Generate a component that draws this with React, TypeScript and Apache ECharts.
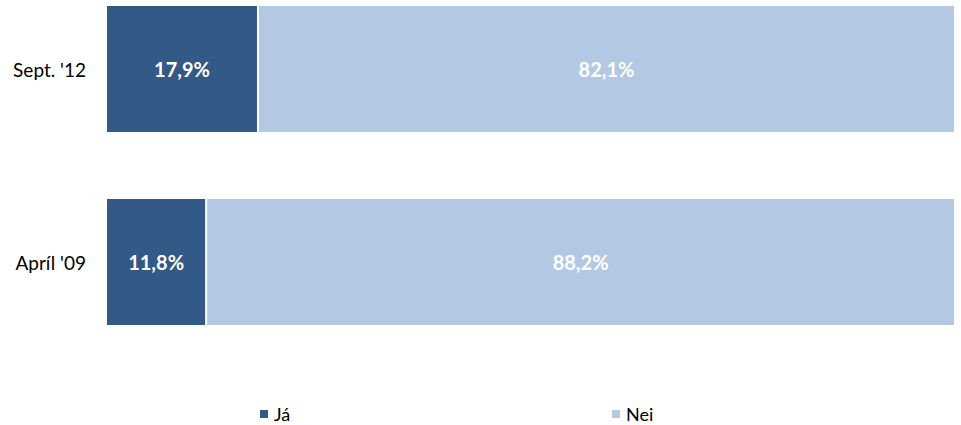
import React, { useEffect, useRef } from "react";
import * as echarts from "echarts";

const categories = ["Apríl '09", "Sept. '12"];
const jaValues = [11.8, 17.9];
const neiValues = [88.2, 82.1];
const seriesNames = ["Já", "Nei"];

const FONT = "Lato";

export default function App() {
  const ref = useRef<HTMLDivElement>(null);
  useEffect(() => {
    if (!ref.current) return;
    const chart = echarts.init(ref.current, null, { renderer: "svg" });
    const fmt = (p: any) => p.value.toFixed(1).replace(".", ",") + "%";
    chart.setOption({
      animation: false,
      textStyle: { fontFamily: FONT },
      grid: { left: 106, right: 6, top: 69, bottom: 163, containLabel: false },
      xAxis: { type: "value", min: 0, max: 100, show: false },
      yAxis: {
        type: "category",
        data: categories,
        boundaryGap: false,
        axisLine: { show: false },
        axisTick: { show: false },
        splitLine: { show: false },
        axisLabel: { color: "#000", fontSize: 19, fontFamily: FONT, margin: 20 },
      },
      legend: [
        {
          data: [seriesNames[0]],
          left: 253,
          top: 400,
          itemWidth: 10,
          itemHeight: 10,
          textStyle: { color: "#000", fontSize: 18, fontFamily: FONT },
          icon: "rect",
        },
        {
          data: [seriesNames[1]],
          left: 605,
          top: 400,
          itemWidth: 10,
          itemHeight: 10,
          textStyle: { color: "#000", fontSize: 18, fontFamily: FONT },
          icon: "rect",
        },
      ],
      series: [
        {
          name: seriesNames[0],
          type: "bar",
          stack: "total",
          barWidth: 128,
          clip: false,
          data: jaValues,
          itemStyle: { color: "#335987", borderColor: "#fff", borderWidth: 1 },
          label: { show: true, color: "#fff", fontWeight: "bold", fontSize: 20, fontFamily: FONT, formatter: fmt },
        },
        {
          name: seriesNames[1],
          type: "bar",
          stack: "total",
          barWidth: 128,
          clip: false,
          data: neiValues,
          itemStyle: { color: "#B3C8E3", borderColor: "#fff", borderWidth: 1 },
          label: { show: true, color: "#fff", fontWeight: "bold", fontSize: 20, fontFamily: FONT, formatter: fmt },
        },
      ],
    });
    return () => chart.dispose();
  }, []);
  return <div ref={ref} style={{ width: 961, height: 425, position: "absolute", left: 0, top: 0 }} />;
}
